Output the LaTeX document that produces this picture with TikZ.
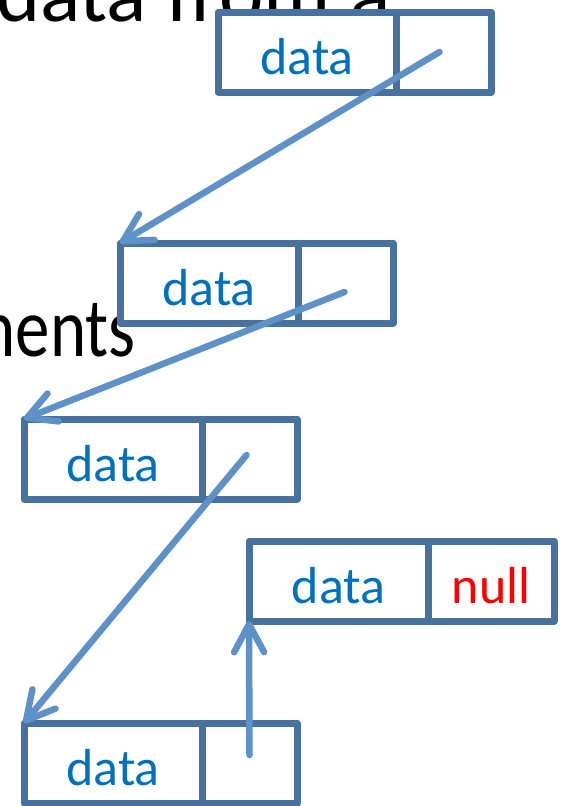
\documentclass[tikz,border=0pt]{standalone}
\usepackage{fontspec}
\setmainfont{Carlito}
\usepackage{graphicx}
\usetikzlibrary{positioning,arrows.meta}
\definecolor{boxline}{RGB}{71,113,158}
\definecolor{arrline}{RGB}{93,145,199}
\definecolor{datablue}{RGB}{0,112,192}
\begin{document}
\begin{tikzpicture}[x=1pt,y=-1pt, line join=round, line cap=round]
	\tikzset{cell/.style={draw=boxline, line width=7pt, fill=white, inner sep=0pt, outer sep=0pt, minimum height=80pt, text height=45pt, text depth=0pt, text=datablue, font=\fontsize{52}{52}\selectfont},
		datacell/.style={cell, minimum width=178pt},
		ptrcell/.style={cell, minimum width=95pt},
		link/.style={draw=arrline, line width=6.5pt, -{Straight Barb[length=28pt,width=30pt,round]}},
		slide/.style={inner sep=0pt, font=\fontsize{84}{84}\selectfont}}
	\useasboundingbox (0,0) rectangle (564,806);
	% slide text behind the list
	\node[slide, anchor=base west] (t1) at (-4,21) {data from a};
	\node[slide, anchor=base east] (t2) at (136,356) {\scalebox{0.82}[1]{nents}};
	% list cells
	\node[datacell] (d1) at (307,52) {data};
	\node[ptrcell, right=0pt of d1] (p1) {};
	\node[datacell] (d2) at (209,283) {data};
	\node[ptrcell, right=0pt of d2] (p2) {};
	\node[datacell] (d3) at (113,459) {data};
	\node[ptrcell, right=0pt of d3] (p3) {};
	\node[datacell, minimum width=179pt] (d4) at (338.5,581) {data};
	\node[ptrcell, minimum width=126pt, right=0pt of d4, text=red] (p4) {null};
	\node[datacell] (d5) at (113,763) {data};
	\node[ptrcell, right=0pt of d5] (p5) {};
	% links
	\coordinate (s1) at ([xshift=-4pt]p1.center);
	\coordinate (s2) at ([xshift=-1pt,yshift=-9pt]p2.center);
	\coordinate (s3) at ([xshift=-3pt,yshift=4pt]p3.center);
	\coordinate (s5) at ([yshift=8pt]p5.center);
	\draw[link] (s1) -- (d2.north west);
	\draw[link] (s2) -- (d3.north west);
	\draw[link] (s3) -- (d5.north west);
	\draw[link] (s5) -- (d4.south west);
\end{tikzpicture}
\end{document}
